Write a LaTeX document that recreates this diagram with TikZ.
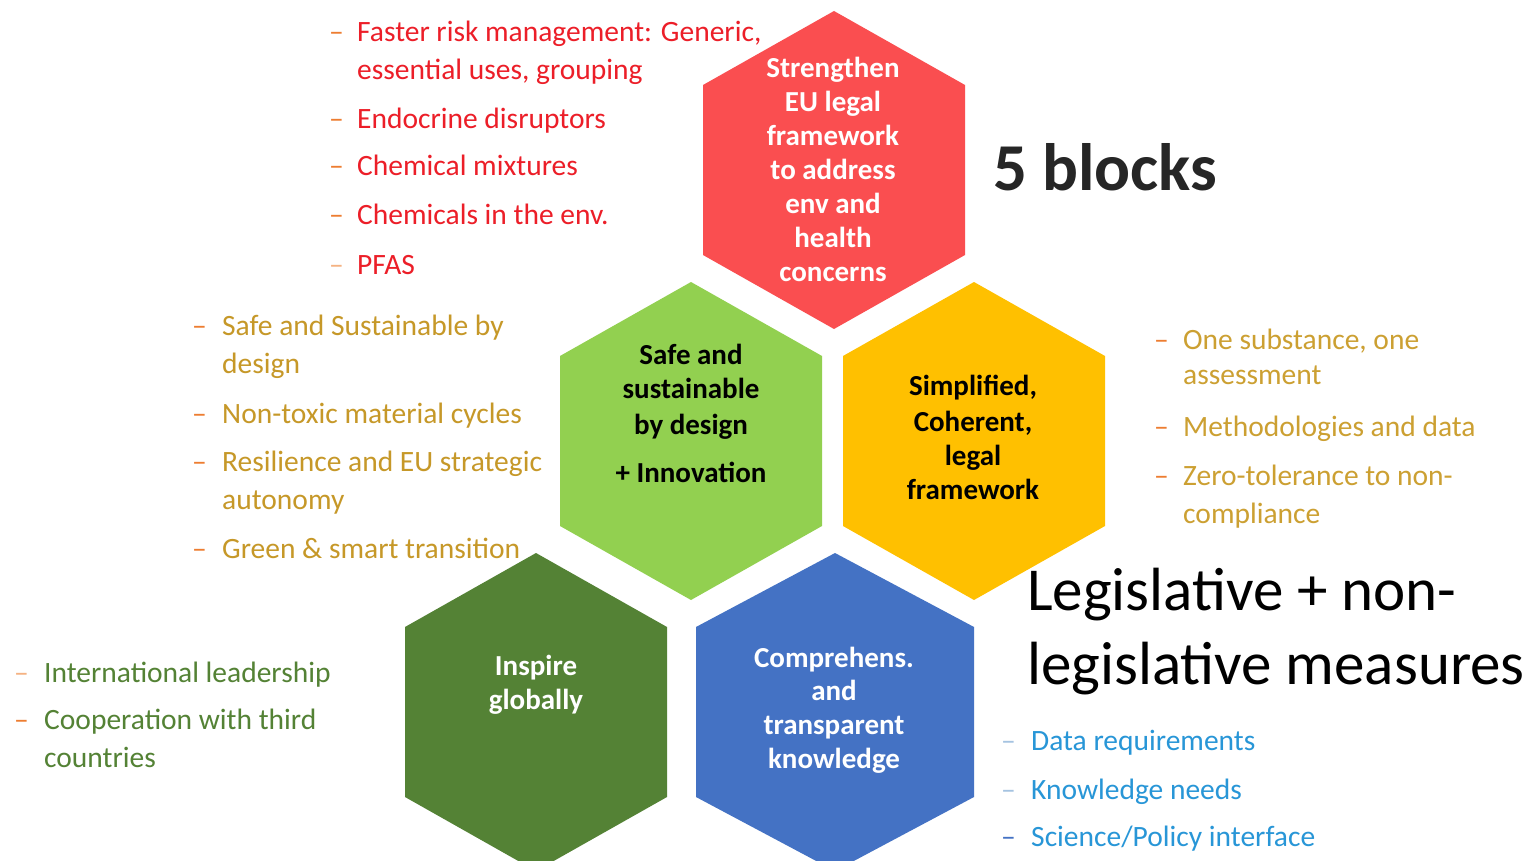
\documentclass[tikz,border=0pt]{standalone}
\usepackage{fontspec}
\setmainfont{Carlito}
\definecolor{hexred}{RGB}{250,78,80}
\definecolor{hexlime}{RGB}{146,208,80}
\definecolor{hexyellow}{RGB}{255,192,0}
\definecolor{hexdkgreen}{RGB}{84,130,53}
\definecolor{hexblue}{RGB}{68,114,196}
\definecolor{txtred}{RGB}{236,30,40}
\definecolor{txtgold}{RGB}{198,152,40}
\definecolor{txtgoldb}{RGB}{204,160,50}
\definecolor{txtgreen}{RGB}{84,130,53}
\definecolor{txtblue}{RGB}{40,150,215}
\definecolor{dashorange}{RGB}{237,125,49}
\definecolor{dashlight}{RGB}{245,178,130}
\definecolor{dashblue}{RGB}{165,195,225}
\definecolor{dashbluedk}{RGB}{68,114,196}
\newcommand\hexshape[4]{\fill[#4] (#1,#2-159) -- (#1+#3,#2-85) -- (#1+#3,#2+85) -- (#1,#2+159) -- (#1-#3,#2+85) -- (#1-#3,#2-85) -- cycle;}
\tikzset{
  listitem/.style={anchor=base west, inner sep=0pt, font=\fontsize{29.5}{38}\selectfont},
  dashmark/.style={anchor=base west, inner sep=0pt, font=\fontsize{29.5}{38}\selectfont},
  hexlabel/.style={anchor=base, inner sep=0pt, font=\fontsize{29}{34}\selectfont\bfseries},
}
\begin{document}
\begin{tikzpicture}[x=1pt,y=-1pt]
\fill[white] (0,0) rectangle (1529,861);
\useasboundingbox (0,0) rectangle (1529,861);
\begin{scope}
\clip (0,0) rectangle (1529,861);
% hexagons
\hexshape{834}{170}{131}{hexred}
\hexshape{691}{441}{131}{hexlime}
\hexshape{974}{441}{131}{hexyellow}
\hexshape{536}{712}{131}{hexdkgreen}
\hexshape{835}{712}{139}{hexblue}
\end{scope}

% hexagon labels
\foreach \t [count=\i] in {Strengthen,EU legal,framework,to address,env and,health,concerns}
  \node[hexlabel, text=white] (lred\i) at (833,77.5+34*\i-34) {\t};
\node[hexlabel] (lg1) at (691,364.5) {Safe and};
\node[hexlabel] (lg2) at (691,398.5) {sustainable};
\node[hexlabel] (lg3) at (691,434.5) {by design};
\node[hexlabel] (lg4) at (691,482.5) {+ Innovation};
\node[hexlabel] (ly1) at (973,395.5) {Simplified,};
\node[hexlabel] (ly2) at (973,431.5) {Coherent,};
\node[hexlabel] (ly3) at (973,465.5) {legal};
\node[hexlabel] (ly4) at (973,499.5) {framework};
\node[hexlabel, text=white] (ld1) at (536,675.5) {Inspire};
\node[hexlabel, text=white] (ld2) at (536,709.5) {globally};
\node[hexlabel, text=white] (lb1) at (834,667.5) {Comprehens.};
\node[hexlabel, text=white] (lb2) at (834,700.5) {and};
\node[hexlabel, text=white] (lb3) at (834,734.5) {transparent};
\node[hexlabel, text=white] (lb4) at (834,768.5) {knowledge};

% big titles
\node[anchor=base west, inner sep=0pt, font=\fontsize{67}{70}\selectfont\bfseries, text=black!85] (blocks) at (993,191) {5 blocks};
\node[anchor=base west, inner sep=0pt, font=\fontsize{61}{74}\selectfont, text=black] (leg1) at (1027,610) {Legislative + non-};
\node[anchor=base west, inner sep=0pt, font=\fontsize{61}{74}\selectfont, text=black] (leg2) at (1027,684) {legislative measures};

% red list
\node[dashmark, text=dashorange] (rd1) at (329,42) {–};
\node[dashmark, text=dashorange] (rd2) at (329,129) {–};
\node[dashmark, text=dashorange] (rd3) at (329,176) {–};
\node[dashmark, text=dashorange] (rd4) at (329,225) {–};
\node[dashmark, text=dashlight] (rd5) at (329,274) {–};
\node[listitem, text=txtred] (rt1) at (357,42) {Faster risk management: Generic,};
\node[listitem, text=txtred] (rt1b) at (357,80) {essential uses, grouping};
\node[listitem, text=txtred] (rt2) at (357,129) {Endocrine disruptors};
\node[listitem, text=txtred] (rt3) at (357,176) {Chemical mixtures};
\node[listitem, text=txtred] (rt4) at (357,225) {Chemicals in the env.};
\node[listitem, text=txtred] (rt5) at (357,274) {PFAS};

% gold list (left)
\node[dashmark, text=dashorange] (gd1) at (192,335) {–};
\node[dashmark, text=dashorange] (gd2) at (192,423) {–};
\node[dashmark, text=dashorange] (gd3) at (192,471) {–};
\node[dashmark, text=dashorange] (gd4) at (192,558) {–};
\node[listitem, text=txtgold] (gt1) at (222,335) {Safe and Sustainable by};
\node[listitem, text=txtgold] (gt1b) at (222,373) {design};
\node[listitem, text=txtgold] (gt2) at (222,423) {Non-toxic material cycles};
\node[listitem, text=txtgold] (gt3) at (222,471) {Resilience and EU strategic};
\node[listitem, text=txtgold] (gt3b) at (222,509) {autonomy};
\node[listitem, text=txtgold] (gt4) at (222,558) {Green \& smart transition};

% gold list (right)
\node[dashmark, text=dashorange] (yd1) at (1154,349) {–};
\node[dashmark, text=dashorange] (yd2) at (1154,436) {–};
\node[dashmark, text=dashorange] (yd3) at (1154,485) {–};
\node[listitem, text=txtgoldb] (yt1) at (1183,349) {One substance, one};
\node[listitem, text=txtgoldb] (yt1b) at (1183,384) {assessment};
\node[listitem, text=txtgoldb] (yt2) at (1183,436) {Methodologies and data};
\node[listitem, text=txtgoldb] (yt3) at (1183,485) {Zero-tolerance to non-};
\node[listitem, text=txtgoldb] (yt3b) at (1183,523) {compliance};

% green list
\node[dashmark, text=dashlight] (dd1) at (14,682) {–};
\node[dashmark, text=dashorange] (dd2) at (14,729) {–};
\node[listitem, text=txtgreen] (dt1) at (44,682) {International leadership};
\node[listitem, text=txtgreen] (dt2) at (44,729) {Cooperation with third};
\node[listitem, text=txtgreen] (dt2b) at (44,767) {countries};

% blue list
\node[dashmark, text=dashblue] (bd1) at (1001,750) {–};
\node[dashmark, text=dashblue] (bd2) at (1001,799) {–};
\node[dashmark, text=dashbluedk] (bd3) at (1001,846) {–};
\node[listitem, text=txtblue] (bt1) at (1031,750) {Data requirements};
\node[listitem, text=txtblue] (bt2) at (1031,799) {Knowledge needs};
\node[listitem, text=txtblue] (bt3) at (1031,846) {Science/Policy interface};
\end{tikzpicture}
\end{document}
